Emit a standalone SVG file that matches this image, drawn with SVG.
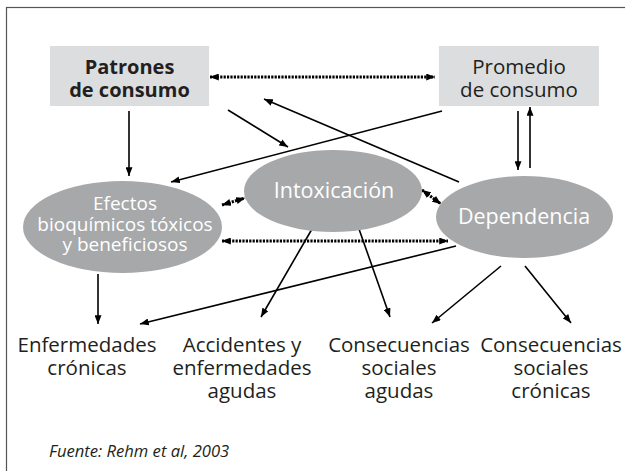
<svg xmlns="http://www.w3.org/2000/svg" width="625" height="471" viewBox="0 0 625 471">
<style>
.box{fill:#dcdddf}
.ell{fill:#a7a8aa}
.t{font-family:"Open Sans","Noto Sans","Liberation Sans",sans-serif;font-size:20.5px;fill:#231f20;text-anchor:middle}
.b{font-weight:bold;font-size:20px}
.w{fill:#ffffff;font-size:21.5px}
.s{font-size:19px}
.ln{stroke:#000;stroke-width:1.6;fill:none;marker-end:url(#ah)}
.dt{stroke:#000;stroke-width:3;stroke-dasharray:2.2 1.2;fill:none;marker-start:url(#ah);marker-end:url(#ah)}
.src{font-family:"Open Sans","Noto Sans","Liberation Sans",sans-serif;font-size:16.6px;font-style:italic;fill:#231f20}
</style>
<defs>
<marker id="ah" viewBox="0 0 10 8" refX="10" refY="4" markerWidth="9" markerHeight="7" markerUnits="userSpaceOnUse" orient="auto-start-reverse">
<path d="M0,0 L10,4 L0,8 z" fill="#000"/>
</marker>
</defs>
<rect x="0" y="0" width="625" height="471" fill="#fff"/>
<rect x="6.5" y="7.5" width="700" height="600" fill="none" stroke="#555" stroke-width="1.2"/>

<g id="connectors">
<path class="ln" d="M129,111 L129,176"/>
<path class="ln" d="M228,110 L288,147"/>
<path class="ln" d="M442,111 L171,182"/>
<path class="ln" d="M459,182 L264,99"/>
<path class="ln" d="M518,111 L518,170"/>
<path class="ln" d="M530,168 L530,107"/>
<path class="dt" d="M210,77 L435,77"/>
<path class="dt" d="M222,205 L245,198"/>
<path class="dt" d="M422,190 L441,204"/>
<path class="dt" d="M222,241 L448,241"/>
<path class="ln" d="M98,274 L98,324"/>
<path class="ln" d="M456,246 L140,324"/>
<path class="ln" d="M312,229 L261,317"/>
<path class="ln" d="M359,229 L390,317"/>
<path class="ln" d="M501,266 L432,323"/>
<path class="ln" d="M525,266 L571,323"/>
</g>

<g id="patrones">
<rect class="box" x="50" y="46" width="159" height="60"/>
<text class="t b" x="129.5" y="74">Patrones<tspan x="129.5" dy="23">de consumo</tspan></text>
</g>
<g id="promedio">
<rect class="box" x="439" y="46" width="160" height="60"/>
<text class="t" x="519" y="74">Promedio<tspan x="519" dy="23">de consumo</tspan></text>
</g>
<g id="efectos">
<ellipse class="ell" cx="122.5" cy="227" rx="99.5" ry="46"/>
<text class="t w s" x="125" y="210">Efectos<tspan x="125" dy="21">bioquímicos tóxicos</tspan><tspan x="125" dy="20">y beneficiosos</tspan></text>
</g>
<g id="intoxicacion">
<ellipse class="ell" cx="333" cy="191" rx="89" ry="41"/>
<text class="t w" x="334" y="198">Intoxicación</text>
</g>
<g id="dependencia">
<ellipse class="ell" cx="524.5" cy="217" rx="88.5" ry="41"/>
<text class="t w" x="524" y="224">Dependencia</text>
</g>
<g id="enfermedades">
<text class="t" x="87" y="352">Enfermedades<tspan x="87" dy="23">crónicas</tspan></text>
</g>
<g id="accidentes">
<text class="t" x="242" y="352">Accidentes y<tspan x="242" dy="23">enfermedades</tspan><tspan x="242" dy="23">agudas</tspan></text>
</g>
<g id="cons-agudas">
<text class="t" x="399" y="352">Consecuencias<tspan x="399" dy="23">sociales</tspan><tspan x="399" dy="23">agudas</tspan></text>
</g>
<g id="cons-cronicas">
<text class="t" x="551" y="352">Consecuencias<tspan x="551" dy="23">sociales</tspan><tspan x="551" dy="23">crónicas</tspan></text>
</g>
<text class="src" x="49" y="457">Fuente: Rehm et al, 2003</text>
</svg>
